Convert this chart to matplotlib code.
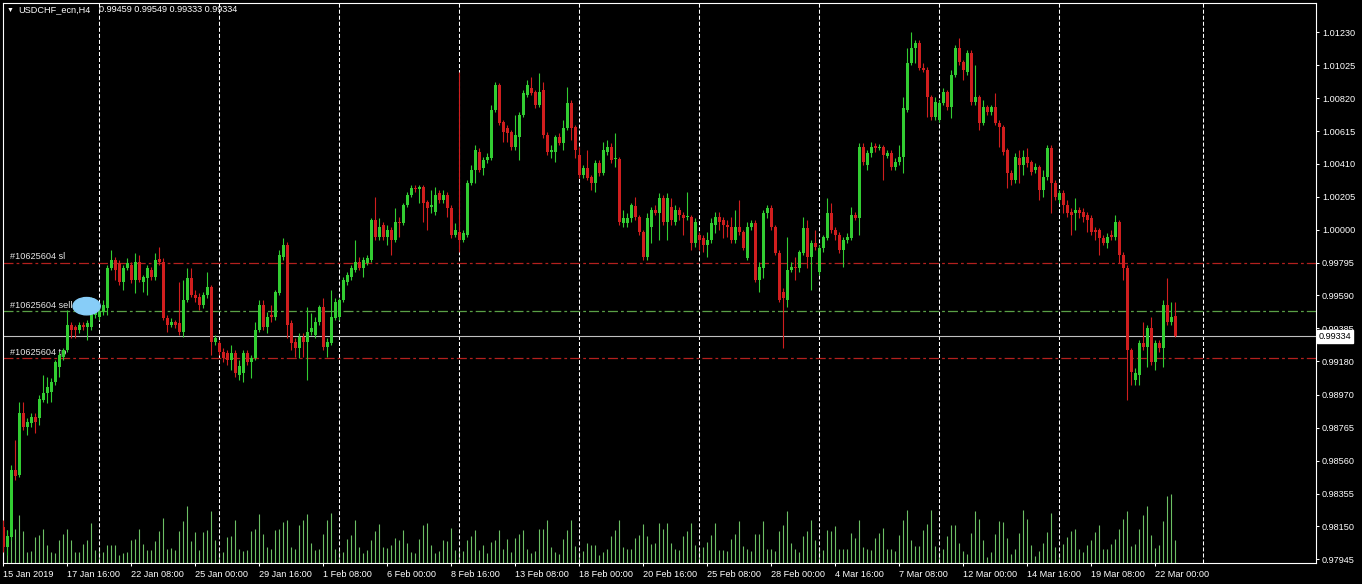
import matplotlib
matplotlib.use('Agg')
import matplotlib.pyplot as plt
from matplotlib.patches import Ellipse
from matplotlib.transforms import blended_transform_factory
import numpy as np

plt.rcParams['font.family'] = ['Liberation Sans', 'DejaVu Sans']
plt.rcParams['lines.scale_dashes'] = False

# USDCHF H4, 15 Jan 2019 00:00 .. 22 Mar 2019 20:00
opens = [
    0.98148, 0.98023, 0.98085, 0.98503, 0.98472, 0.98858, 0.98770, 0.98795, 0.98833, 0.98827,
    0.98939, 0.98982, 0.98989, 0.99052, 0.99144, 0.99206, 0.99250, 0.99406, 0.99393, 0.99375,
    0.99406, 0.99393, 0.99393, 0.99469, 0.99456, 0.99488, 0.99512, 0.99761, 0.99811, 0.99792,
    0.99675, 0.99761, 0.99780, 0.99687, 0.99799, 0.99675, 0.99699, 0.99749, 0.99705, 0.99817,
    0.99799, 0.99450, 0.99406, 0.99425, 0.99418, 0.99363, 0.99562, 0.99699, 0.99593, 0.99581,
    0.99531, 0.99593, 0.99643, 0.99301, 0.99294, 0.99238, 0.99231, 0.99188, 0.99231, 0.99095,
    0.99107, 0.99231, 0.99176, 0.99200, 0.99375, 0.99531, 0.99393, 0.99469, 0.99456, 0.99605,
    0.99830, 0.99905, 0.99418, 0.99301, 0.99263, 0.99331, 0.99301, 0.99363, 0.99344, 0.99425,
    0.99519, 0.99269, 0.99294, 0.99450, 0.99456, 0.99562, 0.99675, 0.99705, 0.99749, 0.99799,
    0.99761, 0.99792, 0.99811, 1.00060, 0.99954, 1.00029, 0.99954, 0.99998, 0.99936, 1.00048,
    1.00042, 1.00154, 1.00216, 1.00260, 1.00254, 1.00266, 1.00173, 1.00141, 1.00111, 1.00228,
    1.00185, 1.00216, 1.00135, 0.99967, 0.99986, 0.99936, 0.99967, 1.00291, 1.00372, 1.00484,
    1.00384, 1.00434, 1.00446, 1.00746, 1.00902, 1.00671, 1.00633, 1.00609, 1.00515, 1.00578,
    1.00715, 1.00839, 1.00883, 1.00858, 1.00777, 1.00870, 1.00590, 1.00484, 1.00484, 1.00578,
    1.00540, 1.00633, 1.00790, 1.00640, 1.00465, 1.00341, 1.00384, 1.00328, 1.00291, 1.00415,
    1.00353, 1.00484, 1.00515, 1.00440, 1.00440, 1.00042, 1.00042, 1.00073, 1.00148, 1.00079,
    0.99986, 0.99830, 1.00016, 1.00123, 1.00104, 1.00197, 1.00048, 1.00141, 1.00048, 1.00123,
    1.00092, 1.00079, 1.00079, 0.99917, 0.99967, 0.99948, 0.99905, 0.99936, 1.00029, 1.00079,
    1.00060, 1.00029, 1.00016, 0.99936, 1.00016, 0.99986, 0.99823, 1.00016, 1.00042, 0.99687,
    0.99761, 1.00104, 1.00135, 1.00016, 0.99854, 0.99612, 0.99562, 0.99749, 0.99767, 0.99761,
    0.99854, 1.00010, 0.99830, 0.99917, 0.99737, 0.99886, 0.99948, 1.00104, 0.99998, 0.99967,
    0.99873, 0.99936, 0.99948, 1.00092, 1.00073, 1.00515, 1.00403, 1.00477, 1.00521, 1.00509,
    1.00515, 1.00459, 1.00477, 1.00391, 1.00422, 1.00453, 1.00746, 1.01038, 1.01132, 1.01163,
    1.01007, 1.00995, 1.00827, 1.00702, 1.00683, 1.00790, 1.00858, 1.00764, 1.00964, 1.01132,
    1.01045, 1.00983, 1.01101, 1.00796, 1.00827, 1.00664, 1.00764, 1.00734, 1.00764, 1.00664,
    1.00640, 1.00496, 1.00353, 1.00310, 1.00446, 1.00403, 1.00453, 1.00422, 1.00372, 1.00391,
    1.00247, 1.00328, 1.00509, 1.00291, 1.00185, 1.00228, 1.00154, 1.00111, 1.00104, 1.00123,
    1.00111, 1.00092, 1.00073, 0.99998, 0.99998, 0.99948, 0.99917, 0.99967, 0.99954, 1.00048,
    0.99842, 0.99761, 0.99250, 0.99064, 0.99095, 0.99294, 0.99269, 0.99387, 0.99176, 0.99294,
    0.99263, 0.99531, 0.99425, 0.99459,
]
highs = [
    0.98192, 0.98129, 0.98534, 0.98690, 0.98927, 0.98927, 0.98827, 0.98858, 0.98858, 0.98970,
    0.99095, 0.99082, 0.99076, 0.99188, 0.99238, 0.99263, 0.99500, 0.99425, 0.99406, 0.99425,
    0.99425, 0.99437, 0.99581, 0.99512, 0.99531, 0.99562, 0.99780, 0.99873, 0.99830, 0.99811,
    0.99780, 0.99823, 0.99799, 0.99854, 0.99842, 0.99718, 0.99780, 0.99767, 0.99854, 0.99892,
    0.99823, 0.99469, 0.99450, 0.99437, 0.99675, 0.99687, 0.99761, 0.99761, 0.99624, 0.99605,
    0.99612, 0.99737, 0.99656, 0.99344, 0.99313, 0.99263, 0.99250, 0.99282, 0.99250, 0.99188,
    0.99250, 0.99250, 0.99219, 0.99425, 0.99562, 0.99562, 0.99488, 0.99531, 0.99624, 0.99873,
    0.99948, 0.99924, 0.99437, 0.99325, 0.99356, 0.99356, 0.99519, 0.99481, 0.99456, 0.99531,
    0.99574, 0.99325, 0.99624, 0.99574, 0.99574, 0.99705, 0.99737, 0.99780, 0.99936, 0.99830,
    0.99830, 0.99842, 1.00073, 1.00203, 1.00073, 1.00048, 1.00029, 1.00016, 1.00135, 1.00079,
    1.00166, 1.00235, 1.00279, 1.00279, 1.00279, 1.00279, 1.00185, 1.00247, 1.00266, 1.00247,
    1.00247, 1.00235, 1.00154, 1.00041, 1.00983, 0.99998, 1.00310, 1.00403, 1.00528, 1.00509,
    1.00453, 1.00477, 1.00777, 1.00921, 1.00915, 1.00683, 1.00652, 1.00621, 1.00715, 1.00734,
    1.00870, 1.00933, 1.00951, 1.00870, 1.00976, 1.00921, 1.00609, 1.00528, 1.00590, 1.00602,
    1.00683, 1.00889, 1.00808, 1.00652, 1.00515, 1.00403, 1.00496, 1.00341, 1.00434, 1.00434,
    1.00547, 1.00559, 1.00540, 1.00602, 1.00453, 1.00123, 1.00104, 1.00166, 1.00203, 1.00092,
    0.99998, 1.00104, 1.00141, 1.00154, 1.00228, 1.00216, 1.00228, 1.00197, 1.00154, 1.00141,
    1.00111, 1.00235, 1.00092, 1.00073, 0.99986, 0.99967, 0.99986, 1.00073, 1.00111, 1.00111,
    1.00079, 1.00060, 1.00079, 1.00123, 1.00185, 0.99998, 1.00048, 1.00060, 1.00060, 0.99799,
    1.00123, 1.00154, 1.00154, 1.00029, 0.99873, 0.99637, 0.99954, 0.99799, 0.99830, 0.99873,
    1.00079, 1.00060, 0.99936, 0.99998, 0.99905, 0.99967, 1.00197, 1.00166, 1.00016, 0.99986,
    0.99954, 0.99979, 1.00141, 1.00111, 1.00540, 1.00540, 1.00496, 1.00547, 1.00540, 1.00534,
    1.00528, 1.00496, 1.00496, 1.00446, 1.00528, 1.00827, 1.01132, 1.01232, 1.01182, 1.01182,
    1.01038, 1.01014, 1.00839, 1.00827, 1.00808, 1.00883, 1.00870, 1.00995, 1.01151, 1.01194,
    1.01057, 1.01120, 1.01120, 1.01026, 1.00839, 1.00808, 1.00777, 1.00777, 1.00851, 1.00683,
    1.00652, 1.00509, 1.00372, 1.00477, 1.00496, 1.00496, 1.00509, 1.00434, 1.00415, 1.00403,
    1.00372, 1.00528, 1.00528, 1.00310, 1.00247, 1.00247, 1.00185, 1.00135, 1.00197, 1.00141,
    1.00135, 1.00111, 1.00092, 1.00016, 1.00010, 0.99967, 0.99979, 0.99998, 1.00092, 1.00060,
    0.99861, 0.99780, 0.99263, 0.99138, 0.99313, 0.99425, 0.99406, 0.99456, 0.99313, 0.99313,
    0.99562, 0.99699, 0.99550, 0.99549,
]
lows = [
    0.97993, 0.97974, 0.98067, 0.98441, 0.98459, 0.98752, 0.98721, 0.98770, 0.98733, 0.98783,
    0.98927, 0.98920, 0.98927, 0.99033, 0.99082, 0.99188, 0.99238, 0.99325, 0.99325, 0.99356,
    0.99375, 0.99313, 0.99375, 0.99450, 0.99437, 0.99469, 0.99469, 0.99749, 0.99687, 0.99656,
    0.99624, 0.99749, 0.99668, 0.99605, 0.99675, 0.99612, 0.99593, 0.99687, 0.99687, 0.99780,
    0.99437, 0.99363, 0.99393, 0.99387, 0.99344, 0.99331, 0.99550, 0.99581, 0.99550, 0.99500,
    0.99512, 0.99574, 0.99219, 0.99282, 0.99219, 0.99176, 0.99157, 0.99126, 0.99082, 0.99064,
    0.99052, 0.99157, 0.99076, 0.99188, 0.99363, 0.99375, 0.99356, 0.99425, 0.99437, 0.99593,
    0.99811, 0.99325, 0.99250, 0.99206, 0.99200, 0.99206, 0.99064, 0.99344, 0.99325, 0.99406,
    0.99250, 0.99206, 0.99282, 0.99437, 0.99437, 0.99550, 0.99656, 0.99687, 0.99737, 0.99749,
    0.99705, 0.99780, 0.99799, 0.99936, 0.99936, 0.99936, 0.99905, 0.99842, 0.99924, 0.99954,
    1.00029, 1.00141, 1.00203, 1.00235, 1.00166, 1.00048, 0.99998, 1.00104, 1.00092, 1.00166,
    1.00166, 1.00079, 0.99948, 0.99954, 0.99861, 0.99924, 0.99954, 1.00279, 1.00291, 1.00360,
    1.00341, 1.00415, 1.00434, 1.00734, 1.00652, 1.00547, 1.00547, 1.00496, 1.00496, 1.00434,
    1.00702, 1.00827, 1.00839, 1.00758, 1.00764, 1.00571, 1.00465, 1.00446, 1.00422, 1.00528,
    1.00496, 1.00621, 1.00559, 1.00446, 1.00322, 1.00322, 1.00310, 1.00247, 1.00235, 1.00335,
    1.00341, 1.00465, 1.00415, 1.00391, 1.00029, 1.00016, 1.00016, 1.00048, 1.00060, 0.99967,
    0.99811, 0.99811, 0.99917, 1.00092, 0.99936, 1.00029, 0.99936, 1.00029, 1.00029, 1.00060,
    0.99967, 1.00060, 0.99873, 0.99892, 0.99873, 0.99861, 0.99830, 0.99917, 0.99979, 0.99998,
    0.99948, 0.99954, 0.99917, 0.99917, 0.99967, 0.99873, 0.99811, 0.99998, 0.99675, 0.99612,
    0.99699, 1.00073, 0.99998, 0.99842, 0.99550, 0.99263, 0.99519, 0.99737, 0.99687, 0.99737,
    0.99842, 0.99761, 0.99624, 0.99873, 0.99718, 0.99861, 0.99936, 0.99979, 0.99936, 0.99854,
    0.99767, 0.99917, 0.99936, 1.00060, 0.99967, 1.00403, 1.00372, 1.00453, 1.00484, 1.00496,
    1.00310, 1.00446, 1.00372, 1.00372, 1.00403, 1.00353, 1.00734, 1.01026, 1.01038, 1.00995,
    1.00983, 1.00702, 1.00683, 1.00683, 1.00671, 1.00777, 1.00746, 1.00696, 1.00951, 1.01026,
    1.00933, 1.00964, 1.00777, 1.00777, 1.00621, 1.00652, 1.00715, 1.00715, 1.00652, 1.00515,
    1.00465, 1.00260, 1.00279, 1.00291, 1.00291, 1.00341, 1.00391, 1.00341, 1.00353, 1.00185,
    1.00203, 1.00310, 1.00104, 1.00185, 1.00166, 1.00104, 1.00079, 0.99967, 0.99998, 1.00073,
    1.00048, 0.99986, 0.99967, 0.99936, 0.99842, 0.99905, 0.99886, 0.99936, 0.99936, 0.99792,
    0.99687, 0.98939, 0.99033, 0.99033, 0.99033, 0.99250, 0.99144, 0.99157, 0.99126, 0.99238,
    0.99144, 0.99406, 0.99406, 0.99333,
]
closes = [
    0.98023, 0.98092, 0.98503, 0.98466, 0.98858, 0.98770, 0.98802, 0.98833, 0.98802, 0.98945,
    0.98982, 0.99020, 0.99052, 0.99176, 0.99219, 0.99250, 0.99406, 0.99375, 0.99375, 0.99406,
    0.99393, 0.99418, 0.99488, 0.99488, 0.99488, 0.99531, 0.99761, 0.99811, 0.99749, 0.99675,
    0.99761, 0.99792, 0.99687, 0.99799, 0.99687, 0.99705, 0.99761, 0.99705, 0.99811, 0.99799,
    0.99450, 0.99406, 0.99425, 0.99406, 0.99363, 0.99562, 0.99699, 0.99593, 0.99574, 0.99531,
    0.99593, 0.99643, 0.99301, 0.99325, 0.99238, 0.99200, 0.99188, 0.99231, 0.99107, 0.99151,
    0.99231, 0.99176, 0.99200, 0.99375, 0.99531, 0.99393, 0.99456, 0.99456, 0.99612, 0.99842,
    0.99905, 0.99406, 0.99294, 0.99263, 0.99331, 0.99301, 0.99363, 0.99387, 0.99425, 0.99519,
    0.99269, 0.99301, 0.99456, 0.99550, 0.99562, 0.99687, 0.99718, 0.99761, 0.99799, 0.99761,
    0.99811, 0.99823, 1.00060, 0.99954, 1.00016, 0.99954, 0.99998, 0.99936, 1.00048, 1.00042,
    1.00154, 1.00216, 1.00260, 1.00254, 1.00266, 1.00166, 1.00135, 1.00154, 1.00216, 1.00185,
    1.00216, 1.00135, 0.99967, 0.99998, 0.99936, 0.99979, 1.00291, 1.00372, 1.00496, 1.00372,
    1.00434, 1.00453, 1.00746, 1.00902, 1.00664, 1.00609, 1.00602, 1.00515, 1.00590, 1.00715,
    1.00851, 1.00902, 1.00851, 1.00777, 1.00858, 1.00590, 1.00484, 1.00496, 1.00578, 1.00540,
    1.00633, 1.00790, 1.00633, 1.00496, 1.00341, 1.00384, 1.00322, 1.00291, 1.00415, 1.00353,
    1.00496, 1.00515, 1.00434, 1.00446, 1.00048, 1.00073, 1.00073, 1.00154, 1.00079, 0.99986,
    0.99830, 1.00073, 1.00123, 1.00104, 1.00197, 1.00048, 1.00197, 1.00060, 1.00123, 1.00092,
    1.00073, 1.00085, 0.99917, 1.00048, 0.99936, 0.99905, 0.99936, 1.00042, 1.00079, 1.00048,
    1.00029, 1.00016, 0.99936, 1.00016, 0.99986, 0.99886, 1.00016, 1.00042, 0.99687, 0.99767,
    1.00104, 1.00135, 1.00016, 0.99854, 0.99562, 0.99574, 0.99749, 0.99767, 0.99761, 0.99861,
    1.00010, 0.99830, 0.99917, 0.99892, 0.99886, 0.99954, 1.00104, 0.99998, 0.99967, 0.99873,
    0.99936, 0.99954, 1.00092, 1.00073, 1.00515, 1.00422, 1.00477, 1.00515, 1.00509, 1.00515,
    1.00465, 1.00477, 1.00391, 1.00422, 1.00453, 1.00758, 1.01038, 1.01132, 1.01163, 1.01007,
    1.00995, 1.00827, 1.00702, 1.00796, 1.00790, 1.00858, 1.00764, 1.00964, 1.01132, 1.01045,
    1.00995, 1.01101, 1.00796, 1.00827, 1.00664, 1.00764, 1.00734, 1.00764, 1.00664, 1.00640,
    1.00484, 1.00353, 1.00310, 1.00453, 1.00403, 1.00453, 1.00415, 1.00360, 1.00391, 1.00247,
    1.00328, 1.00509, 1.00291, 1.00203, 1.00228, 1.00154, 1.00104, 1.00092, 1.00123, 1.00104,
    1.00079, 1.00060, 0.99986, 0.99986, 0.99948, 0.99917, 0.99954, 0.99954, 1.00048, 0.99842,
    0.99761, 0.99250, 0.99113, 0.99107, 0.99294, 0.99269, 0.99387, 0.99176, 0.99294, 0.99263,
    0.99531, 0.99425, 0.99456, 0.99334,
]
volumes = [
    380, 980, 1080, 1030, 1430, 950, 330, 360, 780, 830,
    1030, 530, 330, 300, 700, 860, 1030, 700, 330, 330,
    580, 700, 1210, 380, 480, 330, 530, 530, 530, 230,
    300, 330, 700, 730, 1030, 560, 380, 380, 650, 950,
    1360, 430, 460, 380, 950, 1250, 1700, 650, 920, 380,
    920, 1000, 1550, 680, 330, 330, 780, 800, 1280, 430,
    360, 380, 950, 1030, 1480, 880, 480, 410, 980, 1030,
    1230, 1280, 480, 430, 1130, 1280, 1460, 600, 400, 410,
    860, 1280, 1500, 430, 380, 330, 710, 830, 1280, 480,
    300, 380, 700, 950, 1160, 480, 450, 530, 760, 700,
    1000, 600, 330, 300, 730, 1130, 1210, 530, 300, 360,
    680, 650, 1060, 380, 430, 350, 700, 800, 1000, 400,
    530, 300, 620, 680, 980, 430, 730, 330, 760, 880,
    980, 430, 300, 350, 1030, 1030, 1280, 480, 330, 260,
    730, 1000, 1280, 500, 330, 360, 610, 530, 530, 230,
    330, 430, 800, 980, 1300, 480, 430, 410, 760, 830,
    1180, 800, 580, 610, 1210, 1030, 1210, 610, 430, 380,
    800, 950, 1210, 550, 380, 480, 630, 830, 1210, 380,
    380, 350, 730, 860, 1250, 500, 410, 350, 860, 880,
    1250, 430, 430, 350, 950, 1130, 1550, 610, 430, 330,
    800, 950, 1300, 700, 480, 380, 980, 950, 1100, 410,
    430, 430, 900, 750, 1300, 480, 410, 380, 760, 910,
    1060, 430, 430, 350, 830, 1300, 1580, 700, 500, 500,
    980, 1160, 1580, 500, 330, 410, 800, 1130, 1130, 600,
    350, 260, 900, 1550, 1310, 680, 180, 330, 860, 1250,
    1220, 760, 260, 410, 900, 1580, 1330, 530, 200, 350,
    600, 930, 1500, 480, 300, 580, 780, 950, 1030, 430,
    330, 530, 680, 930, 1130, 410, 410, 580, 730, 1010,
    1310, 1550, 500, 560, 1010, 1430, 1700, 830, 450, 530,
    1250, 2000, 2080, 700,
]

date_labels = ['15 Jan 2019', '17 Jan 16:00', '22 Jan 08:00', '25 Jan 00:00',
               '29 Jan 16:00', '1 Feb 08:00', '6 Feb 00:00', '8 Feb 16:00',
               '13 Feb 08:00', '18 Feb 00:00', '20 Feb 16:00', '25 Feb 08:00',
               '28 Feb 00:00', '4 Mar 16:00', '7 Mar 08:00', '12 Mar 00:00',
               '14 Mar 16:00', '19 Mar 08:00', '22 Mar 00:00']
price_ticks = [1.01230, 1.01025, 1.00820, 1.00615, 1.00410, 1.00205, 1.00000,
               0.99795, 0.99590, 0.99385, 0.99180, 0.98970, 0.98765, 0.98560,
               0.98355, 0.98150, 0.97945]
grid_bars = [24, 54, 84, 114, 144, 174, 204, 234, 264, 300]

order_id = '#10625604'
order_sl = 0.99795
order_sell = 0.99495
order_tp = 0.99200
bid = 0.99334

BULL = '#32cd32'
BEAR = '#d01e1e'
VOL = '#6cbf64'

W, H = 1362, 584
fig = plt.figure(figsize=(W / 100, H / 100), dpi=100, facecolor='black')
rect = [3 / W, 21 / H, 1313 / W, 560 / H]

o = np.array(opens)
c = np.array(closes)
x = np.arange(len(c))
xlim = (-0.1, 328.15)

# volumes sit in their own axes underneath the price chart
vax = fig.add_axes(rect, zorder=0)
vax.set_facecolor('black')
vax.vlines(x, 0, volumes, colors=VOL, lw=0.8)
vax.set_xlim(*xlim)
vax.set_ylim(0, 16800)
vax.set_axis_off()

ax = fig.add_axes(rect, zorder=1)
ax.patch.set_alpha(0)
ax.set_xlim(*xlim)
ax.set_ylim(0.97922, 1.01413)

for g in grid_bars:
    ax.axvline(g, color='white', lw=0.75, linestyle=(0, (2.9, 1.45)), zorder=1)

dashdot = (0, (7.2, 2.2, 2.0, 2.2))
ax.axhline(order_sl, color='#b3201e', lw=0.9, linestyle=dashdot, zorder=2)
ax.axhline(order_tp, color='#b3201e', lw=0.9, linestyle=dashdot, zorder=2)
ax.axhline(order_sell, color='#5aa046', lw=0.9, linestyle=dashdot, zorder=2)
ax.axhline(bid, color='#c0c0c0', lw=0.8, zorder=2)

for txt, yv in [(order_id + ' sl', 0.99832), (order_id + ' sell', 0.99527),
                (order_id + ' tp', 0.99234)]:
    ax.text(1.6, yv, txt, color='#e6e6e6', fontsize=6.6, va='center', ha='left', zorder=2.5)

up = c >= o
cols = np.where(up, BULL, BEAR)
ax.vlines(x, lows, highs, colors=cols, lw=0.8, zorder=3)
body = np.maximum(np.abs(c - o), 0.00004)
ax.bar(x, body, bottom=np.minimum(o, c), width=0.72, color=cols, lw=0, zorder=4)

ax.add_patch(Ellipse((20.8, 0.99523), 6.8, 0.00108, color='#87cdf8', zorder=6))

for sp in ax.spines.values():
    sp.set_color('white')
    sp.set_linewidth(0.8)

ax.yaxis.tick_right()
ax.set_yticks(price_ticks)
ax.set_yticklabels([f'{p:.5f}' for p in price_ticks])
ax.set_xticks(np.arange(0, len(c), 16))
ax.set_xticklabels(date_labels)
for lab in ax.get_xticklabels():
    lab.set_ha('left')
ax.tick_params(axis='both', colors='white', labelcolor='white', labelsize=6.6,
               length=2.4, width=0.75)
ax.tick_params(axis='y', pad=2)
ax.tick_params(axis='x', pad=2.5)

tr = blended_transform_factory(ax.transAxes, ax.transData)
ax.text(1.0018, bid, f'{bid:.5f}', transform=tr, ha='left', va='center',
        fontsize=6.6, color='black', clip_on=False, zorder=10,
        bbox=dict(boxstyle='square,pad=0.18', fc='white', ec='white'))

fig.text(7 / W, 1 - 10 / H, '\u25bc', color='white', fontsize=5, va='center', ha='left')
fig.text(18 / W, 1 - 10 / H, 'USDCHF_ecn,H4', color='white', fontsize=6.6, va='center', ha='left')
fig.text(99 / W, 1 - 10 / H, f'{opens[-1]:.5f} {highs[-1]:.5f} {lows[-1]:.5f} {closes[-1]:.5f}',
         color='white', fontsize=6.6, va='center', ha='left')

plt.savefig('out.png', dpi=100, facecolor='black')
